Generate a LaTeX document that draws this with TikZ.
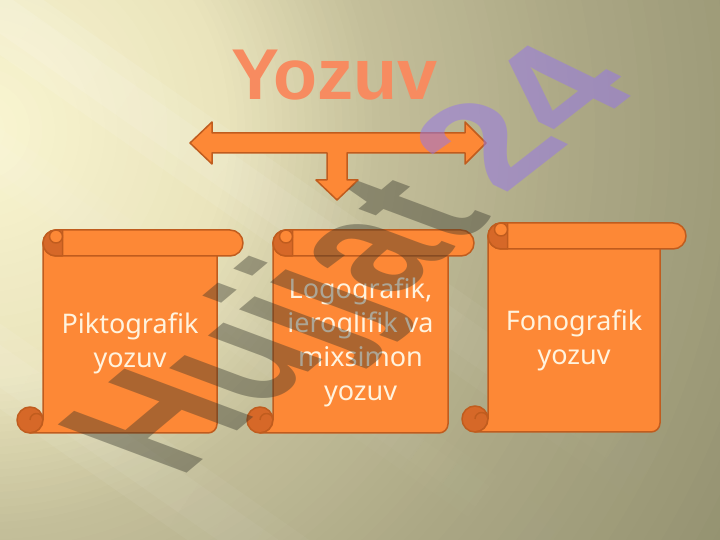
\documentclass[tikz,border=0pt]{standalone}
\usepackage{fontspec}
\setmainfont{Noto Sans}
\newfontfamily\boldsans{Liberation Sans}
\definecolor{bgA}{RGB}{250,246,210}
\definecolor{bgB}{RGB}{234,228,188}
\definecolor{bgC}{RGB}{196,191,154}
\definecolor{bgD}{RGB}{172,168,133}
\definecolor{bgE}{RGB}{145,143,110}
\definecolor{scrfill}{RGB}{253,136,54}
\definecolor{scrline}{RGB}{192,92,30}
\definecolor{scrdark}{RGB}{214,104,40}
\definecolor{cream}{RGB}{255,243,222}
\definecolor{titlecol}{RGB}{247,139,96}
\definecolor{wmgrey}{RGB}{50,50,40}
\definecolor{wmpurple}{RGB}{150,120,230}
\tikzset{
  shapeline/.style={draw=scrline, line width=1.5pt, line join=round},
  scrolltext/.style={inner sep=0pt, align=center, text=cream, font=\fontsize{27}{34}\selectfont},
  wm/.style={transform shape, inner sep=0pt, font=\boldsans\bfseries\fontsize{100}{100}\selectfont}
}
\def\hh{26}\def\hs{13}\def\hq{6.5}\def\rc{9}
\newcommand{\drawscroll}[4]{%
  \def\LL{#1}\def\RR{#2}\def\TT{#3}\def\BB{#4}%
  \draw[shapeline, fill=scrdark] ({\LL-\hs},{\BB+\hs}) circle (\hs);
  \draw[shapeline, fill=scrfill] (\LL,{\TT-\hs}) -- (\LL,{\BB+\hs})
     arc[start angle=0, end angle=-90, radius=\hs] -- ({\RR-\rc},\BB)
     arc[start angle=-90, end angle=0, radius=\rc] -- (\RR,{\TT-\hs}) -- cycle;
  \draw[shapeline] (\LL,{\BB+\hs}) arc[start angle=0, end angle=180, radius=\hq];
  \draw[shapeline, fill=scrfill, rounded corners=\hs pt] (\LL,{\TT-\hh}) rectangle ({\RR+\hh},\TT);
  \draw[shapeline, fill=scrdark] ({\LL+\hs},{\TT-\hh}) arc[start angle=-90, end angle=-270, radius=\hs]
     -- ({\LL+3*\hq},\TT) -- ({\LL+3*\hq},{\TT-\hh}) -- cycle;
  \draw[shapeline, fill=scrfill] ({\LL+\hs},{\TT-\hq}) circle (\hq);
}
\begin{document}
\begin{tikzpicture}[x=1pt,y=1pt]
\useasboundingbox (0,0) rectangle (720,540);
% background
\begin{scope}
  \clip (0,0) rectangle (720,540);
  \fill[bgE] (0,0) rectangle (720,540);
  \foreach \ra/\rb/\ca/\cb in {600/900/bgD/bgE, 400/600/bgC/bgD, 250/400/bgB/bgC, 0/250/bgA/bgB} {
    \foreach \k in {20,...,1} {
      \pgfmathsetmacro\rr{\ra+(\rb-\ra)*\k/20}
      \pgfmathsetmacro\pp{100*(1-\k/20)}
      \fill[\ca!\pp!\cb] (-20,410) circle (\rr);
    }
  }
  \begin{scope}[shift={(0,540)}, rotate=-35]
    \foreach \v/\w/\o in {-10/70/0.24, -130/50/0.12, -300/70/0.2} {
      \foreach \i in {0,...,19} {
        \pgfmathsetmacro\op{\o*(1-\i/20)/2}
        \fill[white, opacity=\op] ({\i*40},{\v-\w/2}) rectangle ({(\i+1)*40},{\v+\w/2});
        \fill[white, opacity=\op] ({\i*40},{\v-\w/4}) rectangle ({(\i+1)*40},{\v+\w/4});
      }
    }
  \end{scope}
\end{scope}
% title
\node[inner sep=0pt, anchor=base, text=titlecol, font=\boldsans\bfseries\fontsize{72}{80}\selectfont] (title) at (334.5,440) {Yozuv};
% T-arrow
\draw[shapeline, fill=scrfill] (190,397) -- (212,418) -- (212,407) -- (465,407) -- (465,418) -- (486,397)
  -- (465,376) -- (465,387) -- (347,387) -- (347,360) -- (358,360) -- (337,340) -- (316,360)
  -- (327,360) -- (327,387) -- (212,387) -- (212,376) -- cycle;
% scrolls
\drawscroll{43}{217}{310}{107}
\drawscroll{273}{448}{310}{107}
\drawscroll{488}{660}{317}{108}
\node[scrolltext] (s1) at (130,197) {Piktografik\\yozuv};
\node[scrolltext] (s2) at (360.5,198) {Logografik,\\ieroglifik va\\mixsimon\\yozuv};
\node[scrolltext] (s3) at (574,200) {Fonografik\\yozuv};
% watermark
\begin{scope}[shift={(179,60)}, cm={1.134,0.951,-1.873,0.700,(0,0)}]
  \node[wm, text=wmgrey, text opacity=0.4, anchor=base west] (wm1) at (0,0) {Hujjat};
\end{scope}
\begin{scope}[shift={(503,344)}, cm={1.261,0.985,-1.501,0.732,(0,0)}]
  \node[wm, text=wmpurple, text opacity=0.55, anchor=base west] (wm2) at (0,0) {24};
\end{scope}
\end{tikzpicture}
\end{document}
